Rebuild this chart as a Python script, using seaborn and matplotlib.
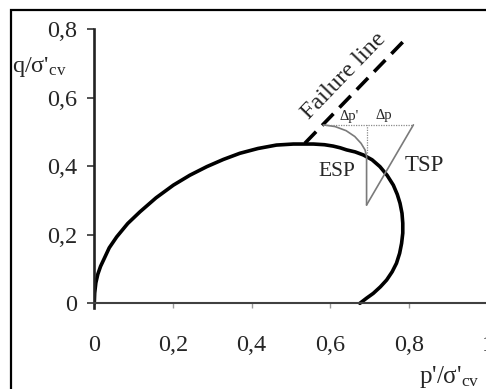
import numpy as np
import pandas as pd
import matplotlib
matplotlib.use("Agg")
import matplotlib.pyplot as plt
import seaborn as sns
from matplotlib.patches import Rectangle
from matplotlib.ticker import FuncFormatter

# --------------------------------
# data
# --------------------------------
yield_p = [0.0, 0.001, 0.004, 0.009, 0.016, 0.025, 0.038, 0.057, 0.085, 0.116, 0.157,
           0.201, 0.243, 0.286, 0.328, 0.370, 0.416, 0.463, 0.506, 0.557, 0.585,
           0.607, 0.625, 0.641, 0.663, 0.684, 0.706, 0.726, 0.744, 0.760, 0.770,
           0.777, 0.782, 0.784, 0.784, 0.781, 0.776, 0.768, 0.757, 0.743, 0.727,
           0.709, 0.692, 0.675]
yield_q = [0.0, 0.030, 0.060, 0.085, 0.108, 0.130, 0.162, 0.194, 0.233, 0.267, 0.308,
           0.345, 0.374, 0.399, 0.420, 0.438, 0.452, 0.462, 0.465, 0.465, 0.463,
           0.459, 0.454, 0.448, 0.442, 0.433, 0.419, 0.399, 0.374, 0.345, 0.318,
           0.292, 0.263, 0.234, 0.205, 0.175, 0.146, 0.117, 0.092, 0.068, 0.048,
           0.029, 0.015, 0.0]

failure_p = [0.535, 0.785]
failure_q = [0.467, 0.764]

esp_p = [0.692, 0.692, 0.688, 0.678, 0.662, 0.640, 0.612, 0.582]
esp_q = [0.287, 0.430, 0.448, 0.467, 0.487, 0.504, 0.516, 0.521]

tsp_p = [0.692, 0.811]
tsp_q = [0.287, 0.521]

dp_line_p = [0.582, 0.811]
dp_line_q = [0.521, 0.521]
dv_line_p = [0.692, 0.692]
dv_line_q = [0.438, 0.521]

x_ticks = [0, 0.2, 0.4, 0.6, 0.8, 1.0]
y_ticks = [0, 0.2, 0.4, 0.6, 0.8]

# --------------------------------
# style
# --------------------------------
sns.set_style("white")
plt.rcParams["font.family"] = ["Liberation Serif", "DejaVu Serif"]
plt.rcParams["mathtext.fontset"] = "custom"
plt.rcParams["mathtext.rm"] = "Liberation Serif"
plt.rcParams["mathtext.it"] = "Liberation Serif:italic"

fig = plt.figure(figsize=(4.86, 3.89), dpi=100)
ax = fig.add_axes([0.194, 0.2027, 0.8906, 0.7396])

yld = pd.DataFrame({"p": yield_p, "q": yield_q})
sns.lineplot(data=yld, x="p", y="q", sort=False, estimator=None, color="black",
             lw=2.6, ax=ax)
sns.lineplot(x=failure_p, y=failure_q, sort=False, estimator=None, color="black",
             lw=2.6, ax=ax).lines[-1].set_dashes([4.5, 2.4])
sns.lineplot(x=esp_p, y=esp_q, sort=False, estimator=None, color="#7a7a7a", lw=1.2, ax=ax)
sns.lineplot(x=tsp_p, y=tsp_q, sort=False, estimator=None, color="#7a7a7a", lw=1.2, ax=ax)
ax.plot(dp_line_p, dp_line_q, color="#8a8a8a", lw=0.9, ls=(0, (1, 1)))
ax.plot(dv_line_p, dv_line_q, color="#8a8a8a", lw=0.9, ls=(0, (1, 1)))

# annotations
ax.text(0.635, 0.665, "Failure line", rotation=46, rotation_mode="anchor",
        ha="center", va="center", fontsize=17.5)
ax.text(0.647, 0.545, "Δp'", ha="center", va="center", fontsize=10.5)
ax.text(0.736, 0.547, "Δp", ha="center", va="center", fontsize=10.5)
ax.text(0.617, 0.384, "ESP", ha="center", va="center", fontsize=15.5)
ax.text(0.840, 0.402, "TSP", ha="center", va="center", fontsize=16.5)

ax.text(-0.209, 0.676, r"q/σ'$_{\rm cv}$", ha="left", va="baseline",
        fontsize=17.5, clip_on=False)
ax.text(0.826, -0.232, r"p'/σ'$_{\rm cv}$", ha="left", va="baseline",
        fontsize=18, clip_on=False)

# axes
ax.set_xlim(0, 1.1)
ax.set_ylim(-0.02, 0.82)
ax.set_xticks(x_ticks)
ax.set_yticks(y_ticks)
fmt = FuncFormatter(lambda v, pos: ("%g" % v).replace(".", ","))
ax.xaxis.set_major_formatter(fmt)
ax.yaxis.set_major_formatter(fmt)
ax.set_xlabel("")
ax.set_ylabel("")

for s in ["top", "right"]:
    ax.spines[s].set_visible(False)
ax.spines["bottom"].set_position(("data", 0))
ax.spines["bottom"].set_color("#404040")
ax.spines["bottom"].set_linewidth(1.5)
ax.spines["left"].set_bounds(-0.015, 0.8)
ax.spines["left"].set_color("#222222")
ax.spines["left"].set_linewidth(1.9)

ax.tick_params(axis="x", direction="out", length=3.6, width=1, color="#999999",
               pad=19, labelsize=17.5, bottom=True)
ax.tick_params(axis="y", direction="out", length=5, width=1.2, color="#333333",
               pad=7, labelsize=17.5, left=True)
ax.set_facecolor("none")

# outer frame of the source figure
fig.patches.append(Rectangle((11 / 486, -0.2), 1.2, 1.2 - 10 / 389, transform=fig.transFigure,
                             fill=False, ec="black", lw=1.6, zorder=10))

fig.savefig("out.png", dpi=100)
